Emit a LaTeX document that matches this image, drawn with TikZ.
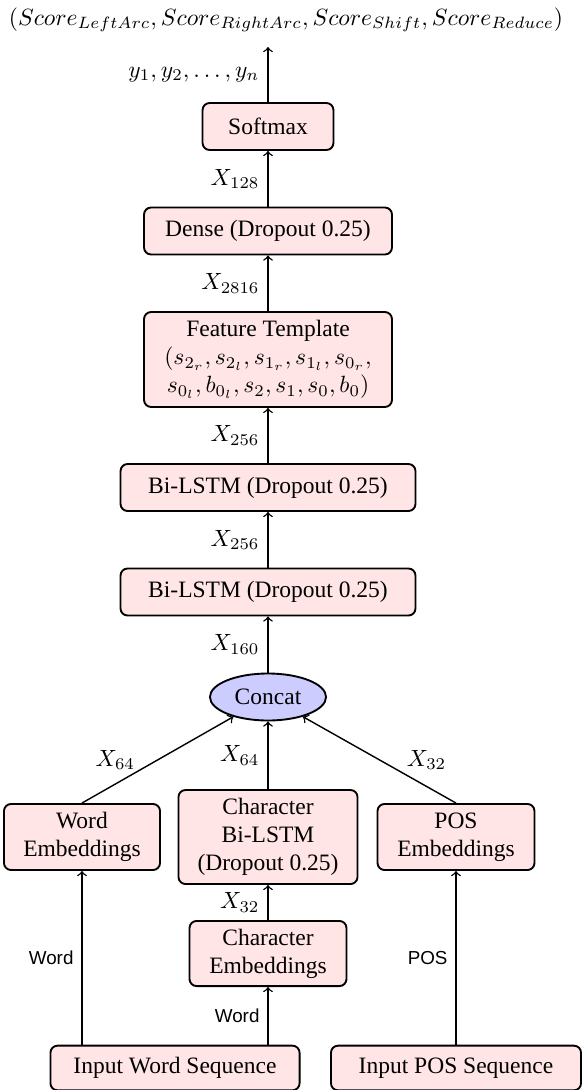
\documentclass[tikz,border=0pt]{standalone}
\usepackage{fontspec}
\setmainfont{Liberation Serif}
\setsansfont{Liberation Sans}
\usetikzlibrary{shapes.geometric}
\begin{document}
\begin{tikzpicture}[x=0.4255pt,y=-0.4255pt,
  box/.style={draw, thick, rounded corners=3pt, fill=red!10, align=center, inner sep=0pt, minimum height=20pt},
  arr/.style={->, semithick},
  slab/.style={font=\sffamily\footnotesize}]
\useasboundingbox (0,0) rectangle (584,1090);
\node (out) at (286,20) {$(Score_{LeftArc}, Score_{RightArc}, Score_{Shift}, Score_{Reduce})$};
\coordinate (top) at (268,47);
\node[box, minimum width=55.7pt] (soft) at (268,126.5) {Softmax};
\node[box, minimum width=105.5pt] (dense) at (268,231) {Dense (Dropout 0.25)};
\node[box, minimum width=105.5pt, minimum height=40.4pt] (ft) at (268,359.5) {Feature Template\\ $(s_{2_r}, s_{2_l}, s_{1_r}, s_{1_l}, s_{0_r},$\\ $s_{0_l}, b_{0_l}, s_2, s_1, s_0, b_0)$};
\node[box, minimum width=125.5pt] (bi1) at (268,487.5) {Bi-LSTM (Dropout 0.25)};
\node[box, minimum width=125.5pt] (bi2) at (268,592) {Bi-LSTM (Dropout 0.25)};
\node[ellipse, draw, thick, fill=blue!20, minimum width=49.4pt, minimum height=20pt, inner sep=0pt] (concat) at (268,697) {Concat};
\node[box, minimum width=66.4pt, minimum height=28.1pt] (wemb) at (82,837) {Word\\Embeddings};
\node[box, minimum width=76.2pt, minimum height=40pt] (cbi) at (268,837) {Character\\Bi-LSTM\\(Dropout 0.25)};
\node[box, minimum width=66.8pt, minimum height=28.1pt] (pemb) at (456,837) {POS\\Embeddings};
\node[box, minimum width=66.8pt, minimum height=27.7pt] (cemb) at (268,953.5) {Character\\Embeddings};
\node[box, minimum width=106pt, minimum height=19pt] (inw) at (175,1068) {Input Word Sequence};
\node[box, minimum width=106.4pt, minimum height=19pt] (inp) at (456,1068) {Input POS Sequence};
\draw[arr] (soft) -- node[left]{$y_1, y_2, \ldots, y_n$} (top);
\draw[arr] (dense) -- node[left]{$X_{128}$} (soft);
\draw[arr] (ft) -- node[left]{$X_{2816}$} (dense);
\draw[arr] (bi1) -- node[left]{$X_{256}$} (ft);
\draw[arr] (bi2) -- node[left]{$X_{256}$} (bi1);
\draw[arr] (concat) -- node[left]{$X_{160}$} (bi2);
\draw[arr] (wemb.north) -- node[left=6pt]{$X_{64}$} (concat);
\draw[arr] (cbi) -- node[left]{$X_{64}$} (concat);
\draw[arr] (pemb.north) -- node[right=8pt]{$X_{32}$} (concat);
\draw[arr] (cemb) -- node[left]{$X_{32}$} (cbi);
\draw[arr] (wemb|-inw.north) -- node[left,slab]{Word} (wemb);
\draw[arr] (cemb|-inw.north) -- node[left,slab]{Word} (cemb);
\draw[arr] (inp) -- node[left,slab]{POS} (pemb);
\end{tikzpicture}
\end{document}
